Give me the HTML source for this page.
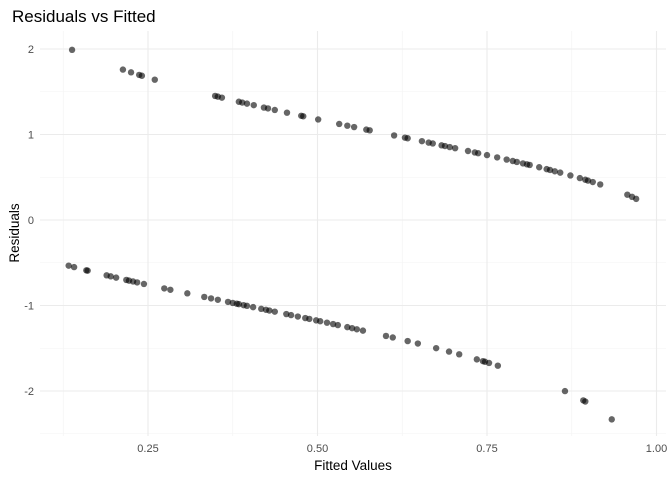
<!DOCTYPE html>
<html><head><meta charset="utf-8"><style>
body{margin:0;background:#fff;}
svg{display:block;font-family:"Liberation Sans",sans-serif;}
</style></head><body>
<svg id="chart" width="672" height="480" viewBox="0 0 672 480">
<text x="12" y="22" font-size="17" fill="#000">Residuals vs Fitted</text>
<g id="grid"></g>
<g id="axes"></g>
<g id="points"></g>
<text x="353" y="470" font-size="13.5" text-anchor="middle" fill="#000">Fitted Values</text>
<text transform="translate(19,233) rotate(-90)" font-size="13.5" text-anchor="middle" fill="#000">Residuals</text>
</svg>
<script>
const upperFitted=[0.138,0.213,0.225,0.237,0.241,0.260,0.349,0.353,0.359,0.384,0.389,0.396,0.406,0.421,0.427,0.437,0.455,0.476,0.479,0.501,0.532,0.544,0.554,0.572,0.577,0.613,0.629,0.633,0.654,0.664,0.670,0.683,0.688,0.695,0.703,0.722,0.732,0.737,0.750,0.765,0.779,0.788,0.794,0.803,0.809,0.813,0.827,0.838,0.843,0.850,0.858,0.873,0.887,0.895,0.899,0.906,0.917,0.957,0.964,0.970];
const upperResid=[1.990,1.759,1.727,1.697,1.687,1.641,1.451,1.443,1.431,1.383,1.374,1.361,1.343,1.315,1.305,1.287,1.255,1.219,1.213,1.176,1.123,1.103,1.087,1.057,1.049,0.989,0.963,0.956,0.922,0.905,0.895,0.873,0.865,0.853,0.840,0.807,0.790,0.781,0.759,0.732,0.707,0.690,0.679,0.662,0.651,0.644,0.617,0.595,0.585,0.570,0.554,0.521,0.490,0.471,0.461,0.444,0.416,0.296,0.271,0.247];
const lowerFitted=[0.133,0.141,0.159,0.161,0.189,0.195,0.203,0.218,0.222,0.228,0.234,0.244,0.274,0.283,0.308,0.333,0.343,0.353,0.368,0.375,0.381,0.384,0.391,0.396,0.405,0.417,0.424,0.429,0.437,0.454,0.461,0.471,0.482,0.488,0.498,0.504,0.514,0.523,0.530,0.544,0.551,0.558,0.567,0.601,0.611,0.633,0.648,0.675,0.694,0.709,0.735,0.744,0.747,0.753,0.766,0.865,0.892,0.895,0.934];
const lowerResid=[-0.534,-0.551,-0.589,-0.592,-0.647,-0.659,-0.674,-0.701,-0.709,-0.719,-0.730,-0.748,-0.800,-0.816,-0.858,-0.900,-0.917,-0.933,-0.958,-0.970,-0.979,-0.984,-0.996,-1.004,-1.019,-1.039,-1.050,-1.059,-1.072,-1.100,-1.112,-1.129,-1.147,-1.157,-1.174,-1.184,-1.201,-1.217,-1.229,-1.253,-1.265,-1.278,-1.294,-1.356,-1.374,-1.416,-1.445,-1.499,-1.539,-1.571,-1.630,-1.651,-1.658,-1.672,-1.704,-2.001,-2.110,-2.123,-2.332];
const xTicks=[0.25,0.50,0.75,1.00];
const xTickLabels=["0.25","0.50","0.75","1.00"];
const yTicks=[-2,-1,0,1,2];
const yTickLabels=["-2","-1","0","1","2"];
const xMinor=[0.125,0.375,0.625,0.875];
const yMinor=[-2.5,-1.5,-0.5,0.5,1.5];

const NS="http://www.w3.org/2000/svg";
const L=40,R=666,T=31,B=436;
const xs=v=>-21.5+678*v;
const ys=v=>220-85.5*v;
function mk(tag,attrs,parent){const e=document.createElementNS(NS,tag);for(const k in attrs)e.setAttribute(k,attrs[k]);parent.appendChild(e);return e;}
const grid=document.getElementById('grid'),axes=document.getElementById('axes'),pts=document.getElementById('points');
xMinor.forEach(v=>{const l=mk('line',{x1:xs(v),x2:xs(v),y1:T,y2:B,stroke:'#f3f3f3','stroke-width':0.6},grid);

});
yMinor.forEach(v=>{const l=mk('line',{x1:L,x2:R,y1:ys(v),y2:ys(v),stroke:'#f3f3f3','stroke-width':0.6},grid);

});
xTicks.forEach((v,i)=>{const l=mk('line',{x1:xs(v),x2:xs(v),y1:T,y2:B,stroke:'#ebebeb','stroke-width':1.1},grid);


const t=mk('text',{x:xs(v),y:452,'font-size':11,'text-anchor':'middle',fill:'#4d4d4d'},axes);t.textContent=xTickLabels[i];

});
yTicks.forEach((v,i)=>{const l=mk('line',{x1:L,x2:R,y1:ys(v),y2:ys(v),stroke:'#ebebeb','stroke-width':1.1},grid);


const t=mk('text',{x:34,y:ys(v)+4,'font-size':11,'text-anchor':'end',fill:'#4d4d4d'},axes);t.textContent=yTickLabels[i];

});
function drawPts(fx,ry){fx.forEach((f,i)=>{const c=mk('circle',{cx:xs(f),cy:ys(ry[i]),r:3.2,fill:'#000','fill-opacity':0.6},pts);

});}
drawPts(upperFitted,upperResid);
drawPts(lowerFitted,lowerResid);
</script>
</body></html>
